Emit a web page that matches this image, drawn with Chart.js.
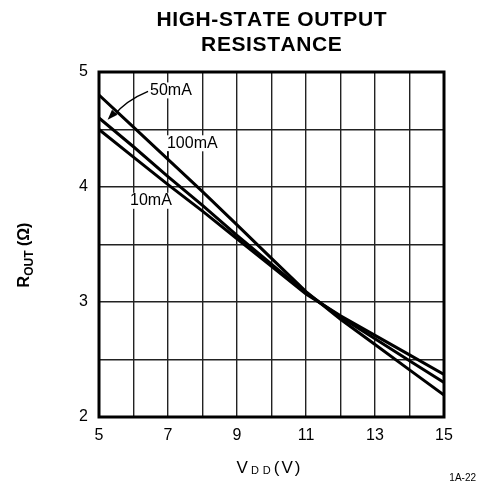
<!DOCTYPE html>
<html><head><meta charset="utf-8">
<script src="https://cdn.jsdelivr.net/npm/chart.js@4"></script>
<style>html,body{margin:0;padding:0;background:#fff}</style>
</head><body>
<canvas id="c" width="479" height="484" style="width:479px;height:484px;display:block"></canvas>
<script>
// ---- data ----
const vdd     = [5, 6, 7, 8, 9, 10, 11, 12, 13, 14, 15];
const r100mA  = [4.80, 4.52, 4.24, 3.96, 3.67, 3.38, 3.09, 2.85, 2.63, 2.41, 2.19];
const r50mA   = [4.60, 4.35, 4.09, 3.84, 3.58, 3.33, 3.08, 2.87, 2.68, 2.49, 2.30];
const r10mA   = [4.50, 4.26, 4.02, 3.79, 3.55, 3.31, 3.07, 2.88, 2.71, 2.54, 2.37];
const xTickLabels = [5, 7, 9, 11, 13, 15];
const yTickLabels = [2, 3, 4, 5];
const curveNames  = ['50mA', '100mA', '10mA'];
const curveLabelV = [6.48, 6.97, 5.90];
const curveLabelR = [4.84, 4.38, 3.88];
const titleLines  = ['HIGH-STATE OUTPUT', 'RESISTANCE'];
const figId = '1A-22';

const FONT = '"Liberation Sans", Arial, Helvetica, sans-serif';
const pts = arr => vdd.map((v, i) => ({x: v, y: arr[i]}));
const ds = (label, arr) => ({label, data: pts(arr), borderColor: '#000', borderWidth: 3,
  pointRadius: 0, tension: 0, fill: false});

function spacedText(c, t, x, y, sp) {
  for (const ch of t) { c.fillText(ch, x, y); x += c.measureText(ch).width + sp; }
  return x;
}
function spacedWidth(c, t, sp) {
  let w = 0; for (const ch of t) w += c.measureText(ch).width + sp; return w - sp;
}

const deco = {
  id: 'deco',
  beforeDraw(chart) {
    const c = chart.ctx;
    c.save(); c.fillStyle = '#fff'; c.fillRect(0, 0, chart.width, chart.height); c.restore();
  },
  afterDatasetsDraw(chart) {
    const c = chart.ctx, a = chart.chartArea, xs = chart.scales.x, ys = chart.scales.y;
    c.save();
    // frame
    c.strokeStyle = '#000'; c.lineWidth = 3;
    c.strokeRect(a.left, a.top, a.right - a.left, a.bottom - a.top);
    // curve labels
    c.font = '16px ' + FONT; c.fillStyle = '#000'; c.textBaseline = 'middle'; c.textAlign = 'left';
    curveNames.forEach((t, i) => {
      const px = xs.getPixelForValue(curveLabelV[i]), py = ys.getPixelForValue(curveLabelR[i]);
      const w = c.measureText(t).width;
      c.fillStyle = '#fff'; c.fillRect(px - 1, py - 8, w + 2, 16);
      c.fillStyle = '#000'; c.fillText(t, px, py);
    });
    // arrow from 50mA label to its curve
    const sx = xs.getPixelForValue(curveLabelV[0]) - 2, sy = ys.getPixelForValue(curveLabelR[0]) + 1;
    const tx = xs.getPixelForValue(5.25), ty = ys.getPixelForValue(4.585);
    const cx = (sx + tx) / 2 - 2, cy = (sy + ty) / 2 - 5;
    c.strokeStyle = '#000'; c.lineWidth = 1.5;
    c.beginPath(); c.moveTo(sx, sy); c.quadraticCurveTo(cx, cy, tx + 6, ty - 4); c.stroke();
    const ang = Math.atan2(ty - cy, tx - cx);
    c.beginPath(); c.moveTo(tx, ty);
    c.lineTo(tx - 11 * Math.cos(ang - 0.35), ty - 11 * Math.sin(ang - 0.35));
    c.lineTo(tx - 11 * Math.cos(ang + 0.35), ty - 11 * Math.sin(ang + 0.35));
    c.closePath(); c.fill();
    // 100mA leader
    const lx = xs.getPixelForValue(curveLabelV[1]) + 1;
    c.lineWidth = 1.5;
    c.beginPath(); c.moveTo(lx, ys.getPixelForValue(curveLabelR[1]) + 8);
    c.lineTo(lx, ys.getPixelForValue(4.245)); c.stroke();
    c.restore();
  },
  afterDraw(chart) {
    const c = chart.ctx, a = chart.chartArea;
    const mid = (a.left + a.right) / 2;
    c.save(); c.fillStyle = '#000';
    // title
    c.font = 'bold 21px ' + FONT; c.textAlign = 'left'; c.textBaseline = 'middle';
    titleLines.forEach((t, i) => {
      const sp = 0.6, w = spacedWidth(c, t, sp);
      spacedText(c, t, mid - w / 2, 20 + i * 25.5, sp);
    });
    // x axis title V_DD(V)
    c.textBaseline = 'alphabetic';
    const big = '17px ' + FONT, small = '11px ' + FONT;
    c.font = big; const wV = c.measureText('V').width, wP = spacedWidth(c, '(V)', 2);
    c.font = small; const wDD = spacedWidth(c, 'DD', 4);
    const total = wV + 3 + wDD + 3 + wP;
    let x0 = mid - 3 - total / 2, base = 473;
    c.font = big; c.fillText('V', x0, base); x0 += wV + 3;
    c.font = small; spacedText(c, 'DD', x0, base + 1, 4); x0 += wDD + 3;
    c.font = big; spacedText(c, '(V)', x0, base, 2);
    // y axis title R_OUT (Ω)
    c.save(); c.translate(29, 255); c.rotate(-Math.PI / 2);
    const bigB = 'bold 16px ' + FONT, smallB = 'bold 12px ' + FONT;
    c.font = bigB; const wR = c.measureText('R').width, wO = c.measureText(' (Ω)').width;
    c.font = smallB; const wS = c.measureText('OUT').width;
    let y0 = -(wR + wS + wO) / 2;
    c.font = bigB; c.fillText('R', y0, 0); y0 += wR;
    c.font = smallB; c.fillText('OUT', y0, 4); y0 += wS;
    c.font = bigB; c.fillText(' (Ω)', y0, 0);
    c.restore();
    // figure id
    c.font = '10px ' + FONT; c.textAlign = 'right';
    c.fillText(figId, 476, 481);
    c.restore();
  }
};

new Chart(document.getElementById('c'), {
  type: 'line',
  data: { datasets: [ds('100mA', r100mA), ds('50mA', r50mA), ds('10mA', r10mA)] },
  options: {
    responsive: false, animation: false, devicePixelRatio: 1,
    layout: { padding: { left: 0, right: 35, top: 72, bottom: 17 } },
    plugins: { legend: { display: false }, tooltip: { enabled: false }, title: { display: false } },
    scales: {
      x: {
        type: 'linear', min: 5, max: 15,
        ticks: { stepSize: 1, autoSkip: false, maxRotation: 0, padding: 9, color: '#000',
          font: { family: FONT, size: 16 },
          callback: v => xTickLabels.includes(v) ? String(v) : '' },
        grid: { color: '#222', lineWidth: 1.4, drawTicks: false },
        border: { display: false },
        afterFit: s => { s.height = 50; }
      },
      y: {
        type: 'linear', min: 2, max: 5,
        ticks: { stepSize: 0.5, autoSkip: false, padding: 11, color: '#000',
          font: { family: FONT, size: 16 },
          callback: v => yTickLabels.includes(v) ? String(v) : '' },
        grid: { color: '#222', lineWidth: 1.4, drawTicks: false },
        border: { display: false },
        afterFit: s => { s.width = 99; }
      }
    }
  },
  plugins: [deco]
});
</script>
</body></html>
